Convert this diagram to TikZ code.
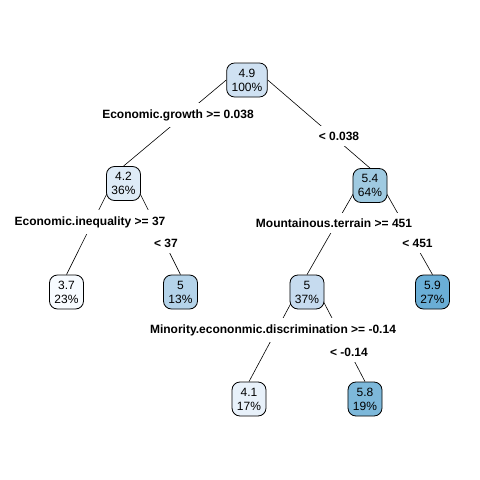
\documentclass[tikz,border=0pt]{standalone}
\usepackage{fontspec}
\setmainfont{Liberation Sans}
\usetikzlibrary{calc,backgrounds}
\definecolor{c37}{HTML}{F7FBFF}
\definecolor{c41}{HTML}{E8F1FA}
\definecolor{c42}{HTML}{DEEBF7}
\definecolor{c49}{HTML}{CFE1F2}
\definecolor{c50}{HTML}{C6DBEF}
\definecolor{c50b}{HTML}{B4D3E9}
\definecolor{c54}{HTML}{9FCAE1}
\definecolor{c58}{HTML}{7DB8DA}
\definecolor{c59}{HTML}{6AAED6}
\tikzset{
  tn/.style={draw=black, line width=0.8pt, rounded corners=8pt, align=center,
    inner xsep=5pt, inner ysep=2pt, minimum width=34pt, minimum height=34pt,
    font=\fontsize{12}{14}\selectfont},
  sl/.style={fill=white, inner xsep=1pt, inner ysep=6pt,
    font=\fontsize{12}{14}\selectfont\bfseries},
  br/.style={draw=black, line width=0.6pt}
}
\begin{document}
\begin{tikzpicture}[x=1pt,y=-1pt]
\useasboundingbox (0,0) rectangle (480,480);
% nodes
\node[tn, fill=c49] (n1) at (247,80) {4.9\\100\%};
\node[tn, fill=c42] (n2) at (123.5,183.5) {4.2\\36\%};
\node[tn, fill=c54] (n3) at (370,185.5) {5.4\\64\%};
\node[tn, fill=c37] (n4) at (66.5,292) {3.7\\23\%};
\node[tn, fill=c50b] (n5) at (180.5,292) {5\\13\%};
\node[tn, fill=c50] (n6) at (307,292) {5\\37\%};
\node[tn, fill=c59] (n7) at (432.5,292) {5.9\\27\%};
\node[tn, fill=c41] (n12) at (249,399) {4.1\\17\%};
\node[tn, fill=c58] (n13) at (365,399) {5.8\\19\%};
% split labels
\node[sl] (s1) at (178,115) {Economic.growth >= 0.038};
\node[sl] (s1r) at (339,136) {< 0.038};
\node[sl] (s2) at (90,222) {Economic.inequality >= 37};
\node[sl] (s2r) at (166,243) {< 37};
\node[sl] (s3) at (334,223) {Mountainous.terrain >= 451};
\node[sl] (s3r) at (417.5,243) {< 451};
\node[sl] (s6) at (273,330) {Minority.econonmic.discrimination >= -0.14};
\node[sl] (s6r) at (349,352) {< -0.14};
% branches
\begin{scope}[on background layer]
\fill[white] (0,0) rectangle (480,480);
\draw[br] (n1.west) -- (n2.north);
\draw[br] (n1.east) -- (n3.north);
\draw[br] ($(n2.center)+(-11.5,0)$) -- (n4.north);
\draw[br] ($(n2.center)+(11.5,0)$) -- (n5.north);
\draw[br] ($(n3.center)+(-12,0)$) -- (n6.north);
\draw[br] ($(n3.center)+(12,0)$) -- (n7.north);
\draw[br] ($(n6.center)+(-10,0)$) -- (n12.north);
\draw[br] ($(n6.center)+(11.5,0)$) -- (n13.north);
\end{scope}
\end{tikzpicture}
\end{document}
